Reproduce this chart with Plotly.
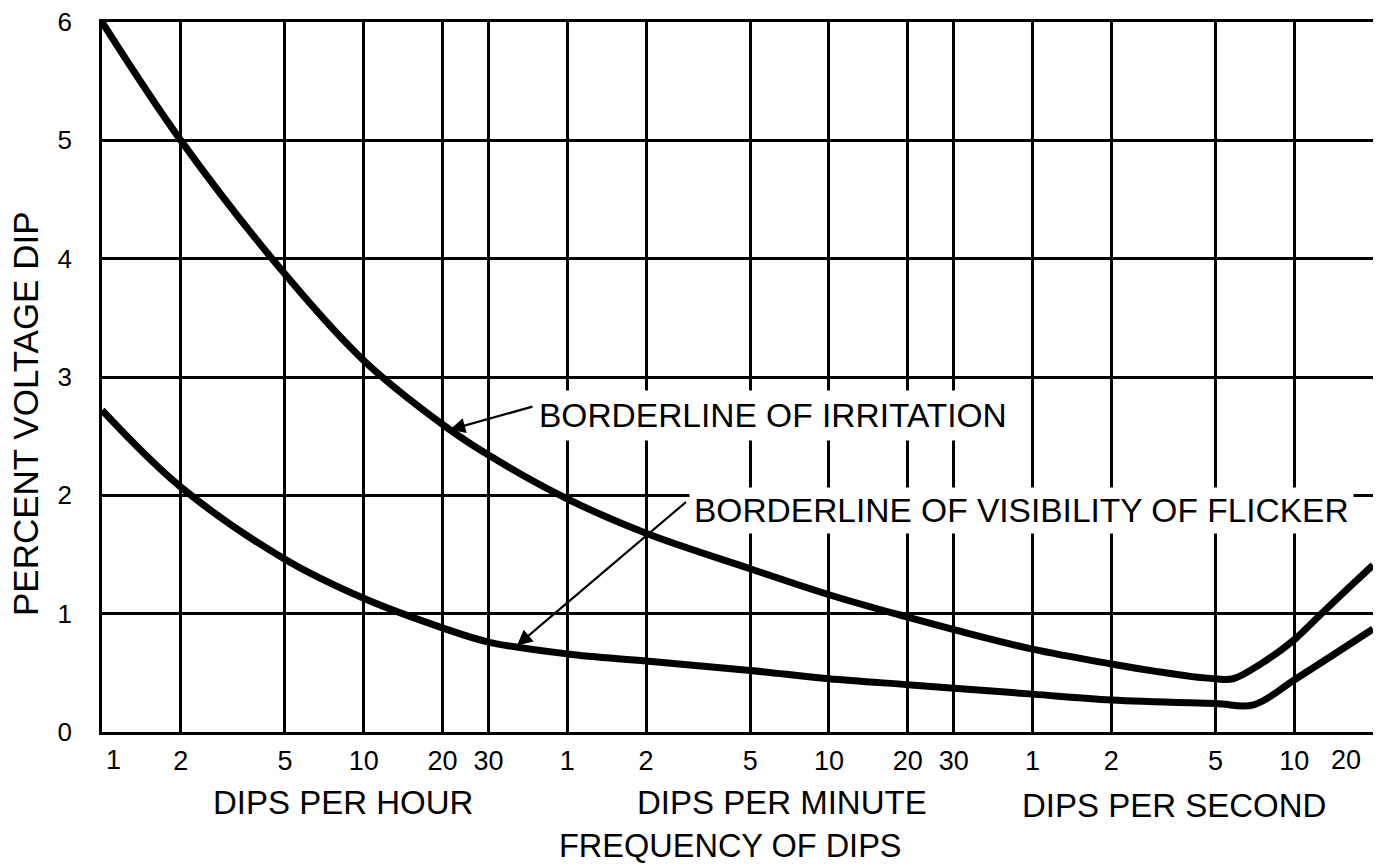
import math
import plotly.graph_objects as go

# ---------------- data ----------------
# x values are frequencies expressed in dips per hour
tick_freq = [1, 2, 5, 10, 20, 30, 60, 120, 300, 600, 1200, 1800, 3600, 7200, 18000, 36000, 72000]
tick_labels = ["1", "2", "5", "10", "20", "30", "1", "2", "5", "10", "20", "30", "1", "2", "5", "10", "20"]
y_ticks = [0, 1, 2, 3, 4, 5, 6]

irritation_freq = [1, 2, 5, 10, 20, 30, 60, 120, 300, 600, 1200, 1800, 3600, 7200, 10800, 14400, 18000,
                   21000, 27000, 36000, 45700, 57600, 72000]
irritation_pct = [6.0, 5.0, 3.87, 3.14, 2.60, 2.34, 1.97, 1.68, 1.38, 1.16, 0.97, 0.865, 0.70, 0.575, 0.51, 0.47, 0.45,
                  0.45, 0.58, 0.78, 1.0, 1.21, 1.41]

visibility_freq = [1, 2, 5, 10, 20, 30, 60, 120, 300, 600, 1200, 1800, 3600, 7200, 18000, 25200, 36000, 72000]
visibility_pct = [2.72, 2.07, 1.46, 1.13, 0.88, 0.76, 0.66, 0.60, 0.52, 0.45, 0.40, 0.37, 0.32, 0.27, 0.24, 0.23,
                  0.44, 0.87]

# ---------------- layout constants ----------------
# the page body keeps an 8 px margin, so the figure is offset by 8 px
BODY = 8
W, H = 1373, 865
ML, MR, MT, MB = 94, 8, 14, 141
PW, PH = W - ML - MR, H - MT - MB
LEFT, BOTTOM = BODY + ML, BODY + H - MB     # plot-area edges in page pixels
FONT = "Liberation Sans, Arial, Helvetica, sans-serif"


def px(x):
    return (x - LEFT) / PW


def py(y):
    return (BOTTOM - y) / PH


fig = go.Figure()
for xs, ys in [(irritation_freq, irritation_pct), (visibility_freq, visibility_pct)]:
    fig.add_trace(go.Scatter(x=xs, y=ys, mode="lines",
                             line=dict(color="black", width=7, shape="spline", smoothing=1.0),
                             showlegend=False, hoverinfo="skip"))

# the two outermost labels are drawn as shifted annotations (as in the original)
tt = list(tick_labels)
tt[0] = ""
tt[-1] = ""
tick_font = dict(family=FONT, size=27, color="black")

xr = [math.log10(tick_freq[0]), math.log10(tick_freq[-1]) + 1e-6]
fig.update_xaxes(type="log", range=xr, tickvals=tick_freq, ticktext=tt, automargin=False,
                 showgrid=True, gridcolor="black", gridwidth=2.5,
                 showline=True, linecolor="black", linewidth=2.5, mirror=True,
                 zeroline=False, ticks="", ticklabelstandoff=3, ticklabeloverflow="allow",
                 tickfont=tick_font)
fig.update_yaxes(range=[0, 6], tickvals=y_ticks, automargin=False,
                 showgrid=True, gridcolor="black", gridwidth=2.5,
                 showline=True, linecolor="black", linewidth=2.5, mirror=True,
                 zeroline=False, ticks="", ticklabelstandoff=22, ticklabeloverflow="allow",
                 tickfont=dict(family=FONT, size=26, color="black"))

ann = []
for i, shift in [(0, 11), (-1, -27)]:
    ann.append(dict(text=tick_labels[i], x=math.log10(tick_freq[i]), xref="x", yref="paper", y=py(760),
                    xshift=shift, showarrow=False, font=tick_font, xanchor="center", yanchor="middle"))

lab_font = dict(family=FONT, size=33, color="black")
ann.append(dict(text="PERCENT VOLTAGE DIP", xref="paper", yref="paper", x=px(26), y=py(414),
                textangle=-90, showarrow=False, font=dict(family=FONT, size=35, color="black"),
                xanchor="center", yanchor="middle"))
for t, cx, cy, fs in [("DIPS PER HOUR", 343, 802, 33), ("DIPS PER MINUTE", 782, 802, 33),
                      ("DIPS PER SECOND", 1174, 805, 33), ("FREQUENCY OF DIPS", 730, 846, 32.5)]:
    ann.append(dict(text=t, xref="paper", yref="paper", x=px(cx), y=py(cy), showarrow=False,
                    font=dict(family=FONT, size=fs, color="black"), xanchor="center", yanchor="middle"))

# curve labels with white boxes
note_font = dict(family=FONT, size=33.5, color="black")
ann.append(dict(text="BORDERLINE OF IRRITATION", xref="paper", yref="paper", x=px(532), y=py(416),
                showarrow=False, font=note_font,
                xanchor="left", yanchor="middle", bgcolor="white", borderpad=6))
ann.append(dict(text="BORDERLINE OF VISIBILITY OF FLICKER", xref="paper", yref="paper", x=px(689), y=py(510),
                showarrow=False, font=note_font,
                xanchor="left", yanchor="middle", bgcolor="white", borderpad=4))
# arrows
ann.append(dict(text="", x=1.322, y=2.55, xref="x", yref="y", showarrow=True, ax=86, ay=-24,
                arrowhead=2, arrowsize=1.4, arrowwidth=2.2, arrowcolor="black", standoff=2))
ann.append(dict(text="", x=1.58, y=0.72, xref="x", yref="y", showarrow=True, ax=172, ay=-146,
                arrowhead=2, arrowsize=1.4, arrowwidth=2.2, arrowcolor="black", standoff=2))

fig.update_layout(width=W, height=H, margin=dict(l=ML, r=MR, t=MT, b=MB, autoexpand=False),
                  paper_bgcolor="white", plot_bgcolor="white", annotations=ann,
                  font=dict(family=FONT, color="black"))
fig.write_html("out.html")
